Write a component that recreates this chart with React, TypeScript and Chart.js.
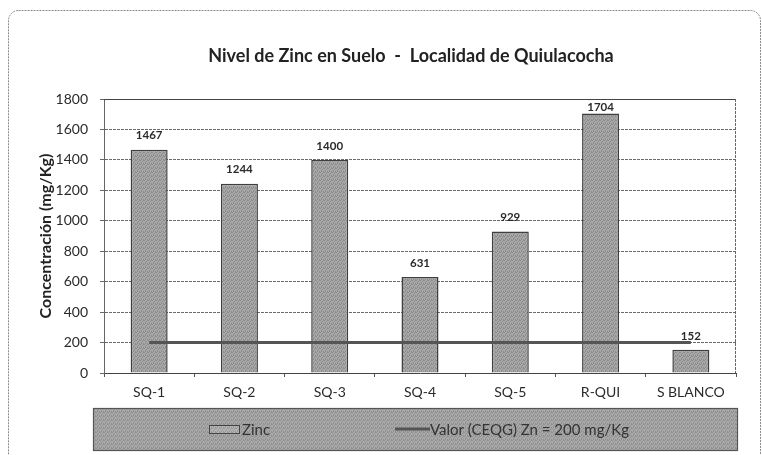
import React, { useEffect, useRef } from "react";
import { Chart, registerables } from "chart.js";

Chart.register(...registerables);

const categories = ["SQ-1", "SQ-2", "SQ-3", "SQ-4", "SQ-5", "R-QUI", "S BLANCO"];
const zincValues = [1467, 1244, 1400, 631, 929, 1704, 152];
const limitValues = [200, 200, 200, 200, 200, 200, 200];
const zincLabel = "Zinc";
const limitLabel = "Valor (CEQG) Zn = 200 mg/Kg";
const chartTitle = "Nivel de Zinc en Suelo  -  Localidad de Quiulacocha";
const yTitle = "Concentración (mg/Kg)";

const FONT = "Lato, 'Open Sans', sans-serif";

function makePattern(c1: string, c2: string) {
  const p = document.createElement("canvas");
  p.width = 4;
  p.height = 4;
  const g = p.getContext("2d")!;
  g.fillStyle = c1;
  g.fillRect(0, 0, 4, 4);
  g.fillStyle = c2;
  const pts = [[0, 0], [2, 1], [1, 2], [3, 3], [3, 0], [1, 3]];
  pts.forEach(([x, y]) => g.fillRect(x, y, 1, 1));
  return g.createPattern(p, "repeat")!;
}

const decorPlugin = {
  id: "decor",
  beforeDraw(chart: any) {
    const ctx = chart.ctx;
    ctx.save();
    ctx.fillStyle = "#ffffff";
    ctx.fillRect(0, 0, chart.width, chart.height);
    // outer rounded border
    ctx.strokeStyle = "#8a8a8a";
    ctx.lineWidth = 1;
    ctx.setLineDash([2, 1]);
    ctx.beginPath();
    if (ctx.roundRect) ctx.roundRect(8.5, 10.5, 752, 470, 10);
    else ctx.rect(8.5, 10.5, 752, 470);
    ctx.stroke();
    ctx.setLineDash([]);
    // title
    ctx.fillStyle = "#222";
    ctx.font = `bold 18px ${FONT}`;
    ctx.textAlign = "center";
    ctx.textBaseline = "middle";
    ctx.fillText(chartTitle, 411, 56);
    ctx.restore();
  },
  afterDatasetsDraw(chart: any) {
    const ctx = chart.ctx;
    const area = chart.chartArea;
    ctx.save();
    // plot border top (solid) and right (dotted)
    ctx.strokeStyle = "#444";
    ctx.lineWidth = 1;
    ctx.beginPath();
    ctx.moveTo(area.left, area.top + 0.5);
    ctx.lineTo(area.right, area.top + 0.5);
    ctx.stroke();
    ctx.strokeStyle = "#666";
    ctx.setLineDash([3, 1]);
    ctx.beginPath();
    ctx.moveTo(area.right - 0.5, area.top);
    ctx.lineTo(area.right - 0.5, area.bottom);
    ctx.stroke();
    ctx.setLineDash([]);
    // value labels
    const meta = chart.getDatasetMeta(0);
    ctx.fillStyle = "#2a2a2a";
    ctx.font = `bold 11.5px ${FONT}`;
    ctx.textAlign = "center";
    ctx.textBaseline = "middle";
    meta.data.forEach((bar: any, i: number) => {
      const y = Math.max(bar.y - 14, area.top + 8);
      ctx.fillText(String(chart.data.datasets[0].data[i]), bar.x, y);
    });
    // legend box
    const lx = 93, ly = 408, lw = 644, lh = 42;
    ctx.fillStyle = makePattern("#a9a9a9", "#8f8f8f");
    ctx.fillRect(lx, ly, lw, lh);
    ctx.strokeStyle = "#555";
    ctx.lineWidth = 1.2;
    ctx.strokeRect(lx + 0.5, ly + 0.5, lw, lh);
    const cy = ly + lh / 2;
    // zinc swatch
    ctx.fillStyle = makePattern("#b3b3b3", "#9a9a9a");
    ctx.fillRect(209, cy - 4, 31, 9);
    ctx.strokeStyle = "#444";
    ctx.lineWidth = 1;
    ctx.strokeRect(209.5, cy - 3.5, 30, 8);
    ctx.fillStyle = "#333";
    ctx.font = `15px ${FONT}`;
    ctx.textAlign = "left";
    ctx.textBaseline = "middle";
    ctx.fillText(chart.data.datasets[0].label, 242, cy + 1);
    // line swatch
    ctx.strokeStyle = "#555";
    ctx.lineWidth = 3;
    ctx.beginPath();
    ctx.moveTo(395, cy);
    ctx.lineTo(430, cy);
    ctx.stroke();
    ctx.fillText(chart.data.datasets[1].label, 430, cy + 1);
    ctx.restore();
  },
};

export default function App() {
  const ref = useRef<HTMLCanvasElement | null>(null);
  useEffect(() => {
    if (!ref.current) return;
    const barFill = makePattern("#a8a8a8", "#8c8c8c");
    const chart = new Chart(ref.current, {
      type: "bar",
      data: {
        labels: categories,
        datasets: [
          {
            type: "bar",
            label: zincLabel,
            data: zincValues,
            backgroundColor: barFill as any,
            borderColor: "#3f3f3f",
            borderWidth: 1.5,
            barPercentage: 0.41,
            categoryPercentage: 1,
            order: 2,
          },
          {
            type: "line",
            label: limitLabel,
            data: limitValues,
            borderColor: "#555555",
            borderWidth: 3,
            pointRadius: 0,
            order: 1,
          } as any,
        ],
      },
      options: {
        animation: false,
        responsive: false,
        layout: { padding: { left: 0, right: 26, top: 99, bottom: 0 } },
        plugins: {
          legend: { display: false },
          title: { display: false },
          tooltip: { enabled: false },
        },
        scales: {
          x: {
            offset: true,
            grid: {
              offset: true,
              drawOnChartArea: false,
              drawTicks: true,
              tickLength: 4,
              color: "#555",
            },
            border: { display: true, color: "#444", width: 1 },
            ticks: {
              color: "#2a2a2a",
              font: { family: FONT, size: 14 },
              padding: 7,
              maxRotation: 0,
              autoSkip: false,
            },
            afterFit: (s: any) => {
              s.height = 82;
            },
          },
          y: {
            min: 0,
            max: 1800,
            ticks: {
              stepSize: 200,
              color: "#2a2a2a",
              font: { family: FONT, size: 14 },
              padding: 12,
              callback: (v: any) => String(v),
            },
            grid: {
              color: "#6a6a6a",
              tickLength: 4,
              drawTicks: true,
              lineWidth: 1,
            },
            border: { display: true, color: "#666", dash: [3, 1] },
            title: {
              display: true,
              text: yTitle,
              color: "#222",
              font: { family: FONT, size: 16, weight: "bold" },
              padding: { top: 36, bottom: 0 },
            },
            afterFit: (s: any) => {
              s.width = 104;
            },
          },
        },
      },
      plugins: [decorPlugin],
    });
    return () => chart.destroy();
  }, []);
  return (
    <div style={{ position: "absolute", left: 0, top: 0, width: 762, height: 455 }}>
      <canvas ref={ref} width={762} height={455} style={{ display: "block" }} />
    </div>
  );
}
